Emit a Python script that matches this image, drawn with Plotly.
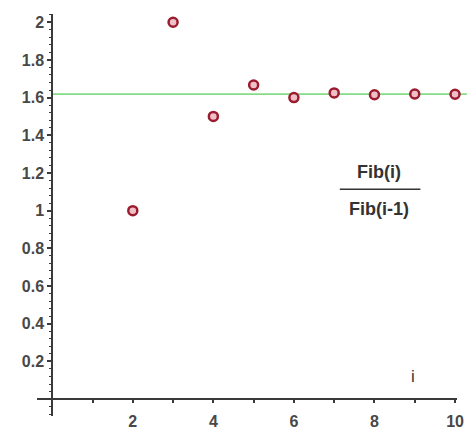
import plotly.graph_objects as go

# data
i_vals = [2, 3, 4, 5, 6, 7, 8, 9, 10]
ratio_vals = [1.0, 2.0, 1.5, 1.667, 1.6, 1.625, 1.615, 1.619, 1.618]
golden = 1.618
y_ticks = [0.2, 0.4, 0.6, 0.8, 1, 1.2, 1.4, 1.6, 1.8, 2]
y_tick_text = ["0.2", "0.4", "0.6", "0.8", "1", "1.2", "1.4", "1.6", "1.8", "2"]
x_ticks = [2, 4, 6, 8, 10]
x_tick_text = ["2", "4", "6", "8", "10"]

W, H = 474, 440
L, R, T, B = 37, 10, 14, 10
pw = W - L - R
ph = H - T - B

x_rng = [-0.3785, 10.049]
y_rng = [-0.0897, 2.0436]

def xpaper(v):
    return (v - x_rng[0]) / (x_rng[1] - x_rng[0])

def ypaper(v):
    return (v - y_rng[0]) / (y_rng[1] - y_rng[0])

fig = go.Figure()
fig.add_trace(go.Scatter(
    x=i_vals, y=ratio_vals, mode="markers",
    marker=dict(symbol="circle", size=9, color="#f0c0c8",
                line=dict(color="#9a1c2e", width=2.5)),
    showlegend=False, cliponaxis=False, hoverinfo="skip",
))

# golden ratio line
fig.add_shape(type="line", xref="paper", yref="y",
              x0=xpaper(0), x1=(W - L) / pw, y0=golden, y1=golden,
              line=dict(color="#86dc86", width=1.8), layer="below")

axis_col = "#3a3a3a"
tick_font = dict(family="Liberation Sans, Arial, sans-serif", size=16,
                 color="#484848", weight="bold")

fig.update_layout(
    width=W, height=H,
    margin=dict(l=L, r=R, t=T, b=B),
    paper_bgcolor="white", plot_bgcolor="white",
    xaxis=dict(range=x_rng, anchor="free", position=ypaper(0),
               showgrid=False, zeroline=False, showline=True,
               linecolor=axis_col, linewidth=2,
               tickvals=x_ticks, ticktext=x_tick_text,
               ticks="outside", ticklen=3, tickwidth=1.5, tickcolor=axis_col,
               minor=dict(dtick=1, tick0=0, ticks="outside", ticklen=3,
                          tickwidth=1.5, tickcolor=axis_col, showgrid=False),
               tickfont=tick_font, ticklabelstandoff=5,
               ticklabeloverflow="allow"),
    yaxis=dict(range=y_rng, anchor="free", position=xpaper(0),
               showgrid=False, zeroline=False, showline=True,
               linecolor=axis_col, linewidth=2,
               tickvals=y_ticks, ticktext=y_tick_text,
               ticks="outside", ticklen=4, tickwidth=1.5, tickcolor=axis_col,
               minor=dict(dtick=0.04, tick0=0, ticks="outside", ticklen=2.5,
                          tickwidth=1.2, tickcolor=axis_col, showgrid=False),
               tickfont=tick_font, ticklabeloverflow="allow"),
)

lab_font = dict(family="Liberation Sans, Arial, sans-serif", size=18,
                color="#333333", weight="bold")
fx = 8.1
fig.add_annotation(x=fx, y=1.205, text="Fib(i)", showarrow=False,
                   font=lab_font, xanchor="center", yanchor="middle")
fig.add_annotation(x=fx, y=1.01, text="Fib(i-1)", showarrow=False,
                   font=lab_font, xanchor="center", yanchor="middle")
fig.add_shape(type="line", xref="x", yref="y", x0=7.14, x1=9.14,
              y0=1.114, y1=1.114, line=dict(color="#333333", width=1.5))
fig.add_annotation(x=8.95, y=0.12, text="i", showarrow=False,
                   font=dict(family="Liberation Sans, Arial, sans-serif",
                             size=17, color="#333333"),
                   xanchor="center", yanchor="middle")

fig.write_html("out.html",
               config={"displayModeBar": False},
               post_script="document.body.style.margin='0';document.body.style.overflow='hidden';")
